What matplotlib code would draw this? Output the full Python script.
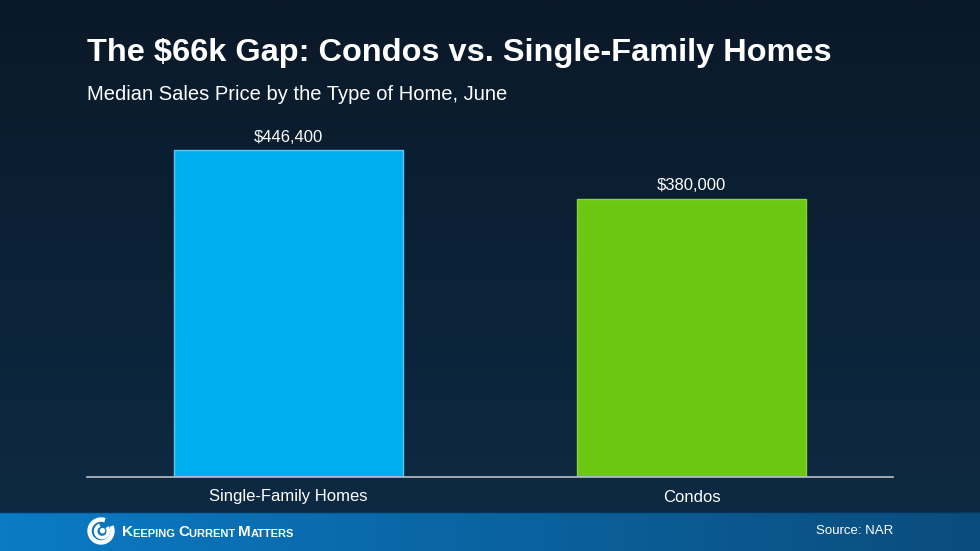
import numpy as np
import matplotlib
matplotlib.use("Agg")
import matplotlib.pyplot as plt
from matplotlib.patches import Circle, Arc

plt.rcParams['font.family'] = ['Liberation Sans', 'DejaVu Sans']

categories = ["Single-Family Homes", "Condos"]
prices = [446400, 380000]
bar_colors = ["#00AEEF", "#6CC712"]
edge_colors = ["#5CC8F2", "#8AD43A"]

title = "The $66k Gap: Condos vs. Single-Family Homes"
subtitle = "Median Sales Price by the Type of Home, June"
source = "Source: NAR"

W, H = 980, 551
fig = plt.figure(figsize=(W / 100, H / 100), dpi=100)

# background gradient
bg = fig.add_axes([0, 0, 1, 1])
bg.set_axis_off()
grad = np.linspace(0, 1, 256)[:, None]
top = np.array([0x0a, 0x19, 0x29]) / 255
bot = np.array([0x0e, 0x2b, 0x45]) / 255
img = top + (bot - top) * grad[..., None]
bg.imshow(img, aspect='auto', extent=[0, 1, 0, 1], origin='upper')
bg.set_xlim(0, 1)
bg.set_ylim(0, 1)

# footer band
fh = (H - 512) / H
gx = np.linspace(0, 1, 256)[None, :]
left = np.array([0x0b, 0x7b, 0xc6]) / 255
right = np.array([0x0a, 0x4c, 0x7c]) / 255
band = left + (right - left) * gx[..., None]
bg.imshow(band, aspect='auto', extent=[0, 1, 0, fh], origin='upper', zorder=2)
bg.axhline(fh, color="#07355a", lw=1, zorder=3)

# main chart
ax = fig.add_axes([87 / W, 1 - 477 / H, (893 - 87) / W, (477 - 111) / H])
ax.patch.set_alpha(0)
x = np.arange(len(categories))
ax.bar(x, prices, width=0.567, color=bar_colors, edgecolor=edge_colors, linewidth=1, zorder=2)
ax.set_xlim(-0.5, 1.5)
ax.set_ylim(0, 500000)
for s in ["top", "right", "left"]:
    ax.spines[s].set_visible(False)
ax.spines["bottom"].set_color("#b8c0c8")
ax.spines["bottom"].set_linewidth(1.2)
ax.set_yticks([])
ax.set_xticks(x)
ax.set_xticklabels(categories, color="white", fontsize=12)
ax.tick_params(axis='x', length=0, pad=9)
for xi, v in zip(x, prices):
    ax.annotate("${:,}".format(v), (xi, v), xytext=(0, 4), textcoords="offset points",
                ha="center", va="bottom", color="white", fontsize=12)

# titles
fig.text(87 / W, 1 - 53 / H, title, color="white", fontsize=23.4, fontweight="bold", va="center", ha="left")
fig.text(87 / W, 1 - 94 / H, subtitle, color="white", fontsize=14.5, va="center", ha="left")

# footer logo (spiral)
lx, ly = 101, H - 531
logo = fig.add_axes([(lx - 14) / W, (ly - 14) / H, 28 / W, 28 / H])
logo.set_axis_off()
logo.set_xlim(-1.1, 1.1)
logo.set_ylim(-1.1, 1.1)
logo.set_aspect("equal")
logo.add_patch(Arc((0, 0), 1.8, 1.8, theta1=70, theta2=385, color="white", lw=3.2, clip_on=False))
logo.add_patch(Arc((0.08, -0.02), 1.0, 1.0, theta1=110, theta2=400, color="white", lw=2.6, clip_on=False))
logo.add_patch(Circle((0.12, 0.02), 0.16, color="white", clip_on=False))

# small caps wordmark
logo_font = ['Liberation Sans Narrow', 'Liberation Sans']
chain = fig.text(122 / W, 1 - 536 / H, "K", color="white", fontsize=11, va="baseline", ha="left",
                 family=logo_font, fontweight="bold")
parts = [("EEPING ", 8), ("C", 11), ("URRENT ", 8), ("M", 11), ("ATTERS", 8)]
for s, fs in parts:
    chain = ax.annotate(s, xy=(1, 0), xycoords=chain, va="bottom", ha="left", color="white",
                        fontsize=fs, family=logo_font, fontweight="bold", annotation_clip=False)

fig.text(893 / W, 1 - 531 / H, source, color="white", fontsize=9.5, va="center", ha="right")

fig.savefig("out.png", dpi=100)
